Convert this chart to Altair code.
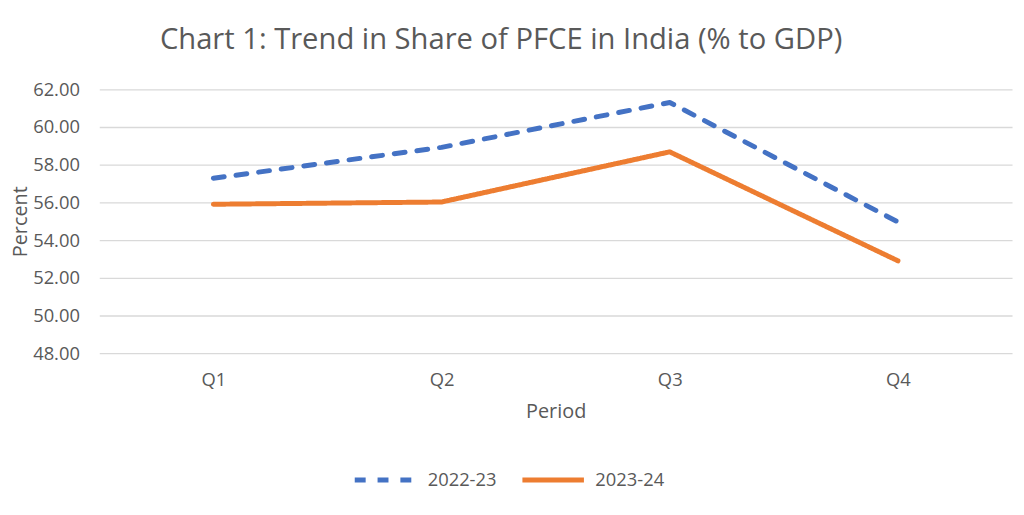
import altair as alt
import pandas as pd

periods = ["Q1", "Q2", "Q3", "Q4"]
series_names = ["2022-23", "2023-24"]
values_2022_23 = [57.28, 58.92, 61.30, 54.96]
values_2023_24 = [55.90, 56.02, 58.68, 52.90]
y_ticks = [48, 50, 52, 54, 56, 58, 60, 62]

rows = []
for p, v in zip(periods, values_2022_23):
    rows.append({"Period": p, "Series": series_names[0], "Value": v})
for p, v in zip(periods, values_2023_24):
    rows.append({"Period": p, "Series": series_names[1], "Value": v})
df = pd.DataFrame(rows)

FONT = "Open Sans"
GREY = "#595959"

legend_opts = dict(title=None, orient="none", direction="horizontal",
                   legendX=255, legendY=360, symbolType="stroke",
                   symbolSize=3844, symbolStrokeWidth=5, labelOffset=9,
                   columnPadding=15, labelFontSize=18.5, padding=0)

chart = alt.Chart(df).mark_line(strokeWidth=5, strokeCap="round", strokeJoin="round").encode(
    x=alt.X("Period:N", sort=periods,
            scale=alt.Scale(type="point", padding=0.5),
            axis=alt.Axis(title="Period", labelAngle=0, domain=False, ticks=False, tickSize=0,
                          labelPadding=18, titlePadding=12, labelFontSize=18.5,
                          titleFontSize=20, titleFontWeight="normal")),
    y=alt.Y("Value:Q", scale=alt.Scale(domain=[48, 62], nice=False, zero=False),
            axis=alt.Axis(title="Percent", values=y_ticks, format=".2f", domain=False,
                          ticks=False, tickSize=0, labelPadding=20, titlePadding=2,
                          labelFontSize=18.5, titleFontSize=20, titleFontWeight="normal",
                          gridColor="#d9d9d9", gridWidth=1.3)),
    color=alt.Color("Series:N", scale=alt.Scale(domain=series_names, range=["#4472C4", "#ED7D31"]),
                    legend=alt.Legend(**legend_opts)),
    strokeDash=alt.StrokeDash("Series:N", scale=alt.Scale(domain=series_names, range=[[11, 12], [1, 0]]),
                              legend=alt.Legend(**legend_opts)),
).properties(
    width=920, height=266,
    title=alt.TitleParams("Chart 1: Trend in Share of PFCE in India (% to GDP)", fontSize=29.4,
                          fontWeight="normal", color=GREY, font=FONT, anchor="middle",
                          baseline="alphabetic", offset=2, dx=-55),
    autosize=alt.AutoSizeParams(type="none"),
    padding={"left": 92, "top": 80, "right": 4, "bottom": 140},
).configure_view(stroke=None).configure_axis(
    labelColor=GREY, titleColor=GREY, labelFont=FONT, titleFont=FONT
).configure_legend(labelColor=GREY, labelFont=FONT)

chart.save("out.html", embed_options={"renderer": "svg", "actions": False})
